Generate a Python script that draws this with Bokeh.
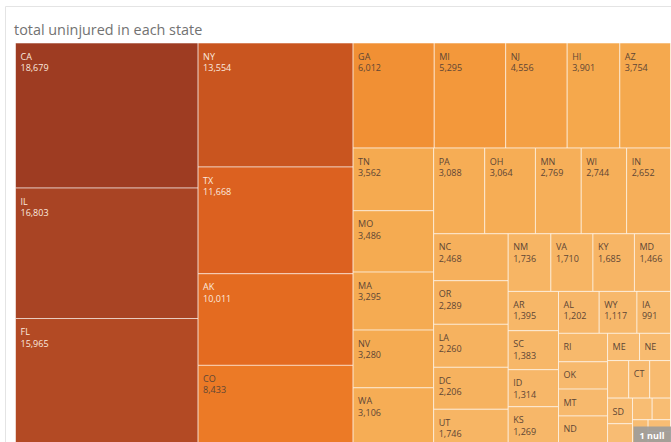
from bokeh.plotting import figure
from bokeh.models import ColumnDataSource, LinearColorMapper, Range1d
from bokeh.embed import file_html
from bokeh.resources import INLINE
from bokeh.core.properties import value

# ---------------- data ----------------
chart_title = "total uninjured in each state"
states = ["CA", "IL", "FL", "NY", "TX", "AK", "CO", "GA", "MI", "NJ", "HI", "AZ",
          "TN", "MO", "MA", "NV", "WA", "PA", "OH", "MN", "WI", "IN", "NC", "OR",
          "LA", "DC", "UT", "NM", "VA", "KY", "MD", "AR", "SC", "ID", "KS", "AL",
          "WY", "IA", "RI", "OK", "MT", "ND", "ME", "NE", "NH", "CT", "MS", "SD",
          "VT", "WV", "DE", "PR", "GU", "VI"]
uninjured = [18679, 16803, 15965, 13554, 11668, 10011, 8433, 6012, 5295, 4556, 3901, 3754,
             3562, 3486, 3295, 3280, 3106, 3088, 3064, 2769, 2744, 2652, 2468, 2289,
             2260, 2206, 1746, 1736, 1710, 1685, 1466, 1395, 1383, 1314, 1269, 1202,
             1117, 991, 985, 945, 930, 917, 615, 595, 560, 555, 550, 451,
             330, 300, 280, 250, 190, 169]
null_marks = 1

# ---------------- layout / style settings ----------------
W_PX, H_PX = 671, 442
TM_LEFT, TM_TOP, TM_RIGHT, TM_BOTTOM = 15.0, 42.5, 670.0, 442.0
STRIP_LIMIT = 1.85
LABEL_FONT = "Open Sans"
LABEL_SIZE = 9.0
color_stops = [(0.00, "#f8bd74"), (0.05, "#f7b86b"), (0.20, "#f5a84c"),
               (0.28, "#f3973a"), (0.32, "#f18f33"), (0.45, "#ec7a26"),
               (0.535, "#e46b20"), (0.625, "#dc6120"), (0.725, "#c9551f"),
               (0.855, "#b34a24"), (0.90, "#a94424"), (1.00, "#9e3c22")]


def hex_to_rgb(h):
    h = h.lstrip("#")
    return tuple(int(h[i:i + 2], 16) for i in (0, 2, 4))


def rgb_to_hex(c):
    return "#%02x%02x%02x" % tuple(int(round(v)) for v in c)


def ramp(t):
    for (t0, c0), (t1, c1) in zip(color_stops[:-1], color_stops[1:]):
        if t <= t1:
            f = 0 if t1 == t0 else (t - t0) / (t1 - t0)
            a, b = hex_to_rgb(c0), hex_to_rgb(c1)
            return rgb_to_hex([a[i] + (b[i] - a[i]) * f for i in range(3)])
    return color_stops[-1][1]


palette = [ramp(i / 255) for i in range(256)]
lo, hi = min(uninjured), max(uninjured)
mapper = LinearColorMapper(palette=palette, low=lo, high=hi)


def mapped_color(v):
    idx = int((v - lo) / (hi - lo) * 256)
    return palette[min(max(idx, 0), 255)]


def strip_treemap(vals, x, y, w, h, limit):
    k = (w * h) / float(sum(vals))
    rects = []
    i, n = 0, len(vals)
    while i < n:
        vertical = w >= h
        L = h if vertical else w
        j = i + 1
        while j < n:
            t = sum(vals[i:j + 1]) * k / L
            if (j + 1 - i) * t / L > limit:
                break
            j += 1
        t = sum(vals[i:j]) * k / L
        pos = 0.0
        for v in vals[i:j]:
            ln = v * k / t
            if vertical:
                rects.append((x, x + t, y + pos, y + pos + ln))
            else:
                rects.append((x + pos, x + pos + ln, y, y + t))
            pos += ln
        if vertical:
            x += t
            w -= t
        else:
            y += t
            h -= t
        i = j
    return rects


CW = {'A': .63, 'B': .65, 'C': .63, 'D': .72, 'E': .56, 'F': .52, 'G': .72, 'H': .74,
      'I': .28, 'J': .27, 'K': .61, 'L': .52, 'M': .9, 'N': .76, 'O': .78, 'P': .6,
      'Q': .78, 'R': .62, 'S': .55, 'T': .55, 'U': .73, 'V': .58, 'W': .9, 'X': .58,
      'Y': .56, 'Z': .57, ',': .25}


def text_w(s, fs):
    return sum(CW.get(c, .572) for c in s) * fs


order = sorted(range(len(uninjured)), key=lambda i: -uninjured[i])
vals = [uninjured[i] for i in order]
names = [states[i] for i in order]
rects = strip_treemap(vals, TM_LEFT, TM_TOP, TM_RIGHT - TM_LEFT, TM_BOTTOM - TM_TOP, STRIP_LIMIT)

cells = ColumnDataSource(dict(
    left=[r[0] for r in rects], right=[r[1] for r in rects],
    top=[r[2] for r in rects], bottom=[r[3] for r in rects],
    val=vals, state=names))

lab = dict(x=[], y=[], text=[], color=[])
for (l, r, t, b), v, s in zip(rects, vals, names):
    cw, ch = r - l, b - t
    c = hex_to_rgb(mapped_color(v))
    lum = 0.299 * c[0] + 0.587 * c[1] + 0.114 * c[2]
    tc = "#fbe9df" if lum < 140 else "#5e4635"
    vs = "{:,}".format(v)
    if cw >= text_w(s, LABEL_SIZE) + 8 and ch >= 20:
        lab["x"].append(l + 5)
        lab["y"].append(t + 13)
        lab["text"].append(s)
        lab["color"].append(tc)
        if cw >= text_w(vs, LABEL_SIZE) + 8 and ch >= 32:
            lab["x"].append(l + 5)
            lab["y"].append(t + 24.5)
            lab["text"].append(vs)
            lab["color"].append(tc)

p = figure(width=W_PX, height=H_PX, x_range=Range1d(0, W_PX), y_range=Range1d(H_PX, 0),
           toolbar_location=None, output_backend="svg", min_border=0,
           x_axis_location=None, y_axis_location=None)
p.grid.grid_line_color = None
p.outline_line_color = None
p.background_fill_color = "white"
p.border_fill_color = "white"

# panel border
p.quad(left=[5], right=[690], top=[6], bottom=[470], fill_color=None,
       line_color="#e4e4e4", line_width=1)

p.quad(left="left", right="right", top="top", bottom="bottom", source=cells,
       fill_color={"field": "val", "transform": mapper},
       line_color="white", line_alpha=0.55, line_width=1)

p.text(x="x", y="y", text="text", text_color="color", source=ColumnDataSource(lab),
       text_font=value(LABEL_FONT), text_font_size="%gpx" % LABEL_SIZE,
       text_baseline="alphabetic", text_align="left")

p.text(x=[13.5], y=[29], text=[chart_title], text_font=value("Open Sans"),
       text_font_size="14.4px", text_color="#727272", text_baseline="alphabetic")

# null indicator
p.quad(left=[633], right=[672], top=[426], bottom=[442], fill_color="#9b9b9b",
       fill_alpha=0.9, line_color=None)
p.text(x=[651.5], y=[434.5], text=["%d null" % null_marks], text_font=value("Open Sans"),
       text_font_size="9px", text_font_style="bold", text_color="white",
       text_align="center", text_baseline="middle")

open("out.html", "w").write(file_html(p, INLINE))
